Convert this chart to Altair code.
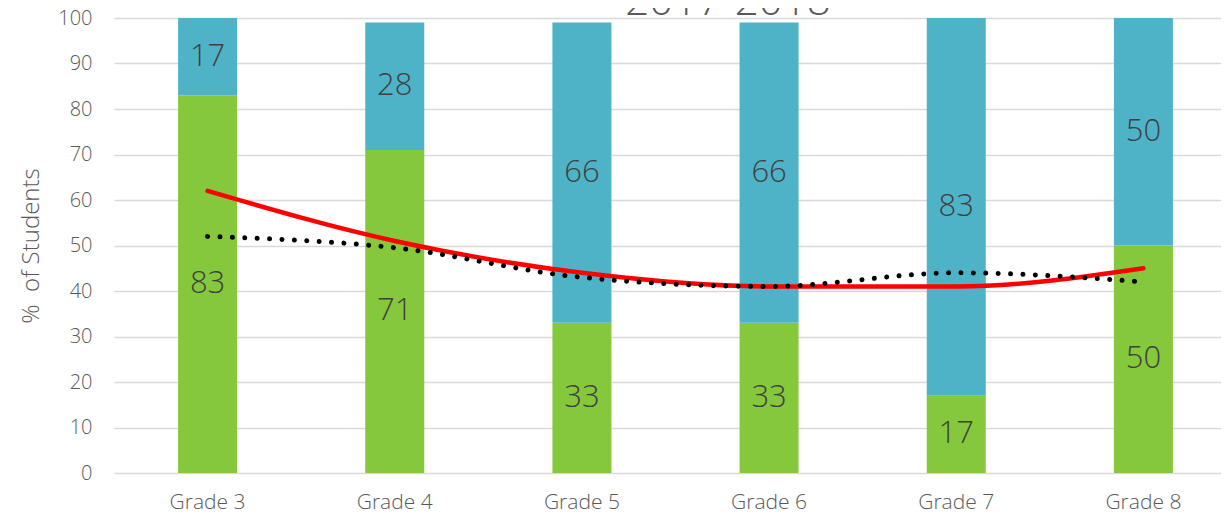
import altair as alt
import pandas as pd

grades = ["Grade 3", "Grade 4", "Grade 5", "Grade 6", "Grade 7", "Grade 8"]
green_vals = [83, 71, 33, 33, 17, 50]
blue_vals = [17, 28, 66, 66, 83, 50]
red_line = [62, 51, 44, 41, 41, 45]
dotted_line = [52, 49.5, 43, 41, 44, 42]
title_text = "2017-2018"

df = pd.DataFrame({
    "grade": grades,
    "green": green_vals,
    "blue": blue_vals,
    "red": red_line,
    "dots": dotted_line,
})

FONT = "Open Sans"
GREY = "#595959"

xscale = alt.Scale(domain=grades, range=[0, 1123], paddingInner=0, paddingOuter=0)
yscale = alt.Scale(domain=[0, 100], nice=False)

base = alt.Chart(df)

x_enc = alt.X("grade:N", scale=xscale, sort=grades,
              axis=alt.Axis(title=None, labelAngle=0, labelFontSize=21, labelColor=GREY,
                            labelFont=FONT, labelFontWeight=300, labelPadding=18,
                            ticks=False, domain=False, grid=False))

green = base.mark_bar(size=59, color="#86C83B").encode(
    x=x_enc,
    y=alt.Y("green:Q", scale=yscale,
            axis=alt.Axis(title="%\u00a0 of Students", values=list(range(0, 101, 10)),
                          labelFontSize=20, labelColor=GREY, labelFont=FONT,
                          labelFontWeight=300, labelPadding=22, ticks=False, domain=False,
                          grid=True, gridColor="#D9D9D9", gridWidth=1.5,
                          titleFontSize=24, titleColor=GREY, titleFont=FONT,
                          titleFontWeight=300, titlePadding=14)),
    y2=alt.datum(0),
)

blue = base.transform_calculate(top="datum.green + datum.blue").mark_bar(
    size=59, color="#4FB3C8").encode(
    x=alt.X("grade:N", scale=xscale, sort=grades),
    y=alt.Y("green:Q", scale=yscale),
    y2="top:Q",
)

green_lbl = base.transform_calculate(mid="datum.green / 2").mark_text(
    fontSize=31, font=FONT, fontWeight=300, color="#404040", baseline="middle").encode(
    x=alt.X("grade:N", scale=xscale, sort=grades),
    y=alt.Y("mid:Q", scale=yscale),
    text="green:Q",
)

blue_lbl = base.transform_calculate(mid="datum.green + datum.blue / 2").mark_text(
    fontSize=31, font=FONT, fontWeight=300, color="#404040", baseline="middle").encode(
    x=alt.X("grade:N", scale=xscale, sort=grades),
    y=alt.Y("mid:Q", scale=yscale),
    text="blue:Q",
)

red = base.mark_line(color="#FF0000", strokeWidth=4.5, interpolate="monotone",
                     strokeCap="round").encode(
    x=alt.X("grade:N", scale=xscale, sort=grades),
    y=alt.Y("red:Q", scale=yscale),
)

dots = base.mark_line(color="#000000", strokeWidth=5, interpolate="monotone",
                      strokeCap="round", strokeDash=[0.01, 12.4]).encode(
    x=alt.X("grade:N", scale=xscale, sort=grades),
    y=alt.Y("dots:Q", scale=yscale),
)

title = alt.Chart(pd.DataFrame({"t": [title_text]})).mark_text(
    fontSize=42, font=FONT, fontWeight=300, color=GREY, align="center",
    baseline="alphabetic").encode(
    x=alt.value(614), y=alt.value(-3), text="t:N",
)

chart = alt.layer(green, blue, green_lbl, blue_lbl, red, dots, title).properties(
    width=1107, height=455,
    autosize=alt.AutoSizeParams(type="none"),
    padding={"left": 106, "top": 10, "right": 0, "bottom": 42},
).configure_view(stroke=None, clip=False)

chart.save("out.html", embed_options={"renderer": "svg", "actions": False})
